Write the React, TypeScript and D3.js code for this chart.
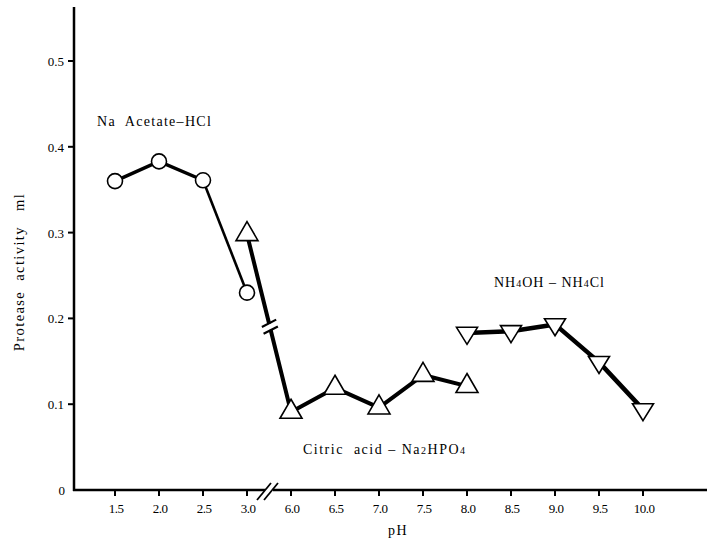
import React from "react";
import * as d3 from "d3";

const xTicks = [1.5, 2.0, 2.5, 3.0, 6.0, 6.5, 7.0, 7.5, 8.0, 8.5, 9.0, 9.5, 10.0];
const xTickLabels = ["1.5", "2.0", "2.5", "3.0", "6.0", "6.5", "7.0", "7.5", "8.0", "8.5", "9.0", "9.5", "10.0"];
const yTicks = [0, 0.1, 0.2, 0.3, 0.4, 0.5];
const yTickLabels = ["0", "0.1", "0.2", "0.3", "0.4", "0.5"];

const acetatePH = [1.5, 2.0, 2.5, 3.0];
const acetateVals = [0.36, 0.383, 0.361, 0.23];
const citricPH = [3.0, 6.0, 6.5, 7.0, 7.5, 8.0];
const citricVals = [0.298, 0.091, 0.119, 0.096, 0.134, 0.121];
const ammoniumPH = [8.0, 8.5, 9.0, 9.5, 10.0];
const ammoniumVals = [0.183, 0.185, 0.193, 0.149, 0.094];

const W = 707;
const H = 542;
const FONT = "'Liberation Serif', 'DejaVu Serif', serif";

// broken axis: pH -> index position
const idx = (p: number) => (p <= 3.0 ? (p - 1.5) / 0.5 : 4 + (p - 6.0) / 0.5);
const xIdx = d3.scaleLinear().domain([0, 12]).range([115, 643]);
const x = (p: number) => xIdx(idx(p));
const y = d3.scaleLinear().domain([0, 0.5]).range([490, 61]);

const AX = 74;
const AY = y(0);

function triUp(cx: number, cy: number, w = 22, h = 19) {
  return `M${cx},${cy - (2 * h) / 3} L${cx + w / 2},${cy + h / 3} L${cx - w / 2},${cy + h / 3} Z`;
}
function triDown(cx: number, cy: number, w = 21, h = 17) {
  return `M${cx},${cy + (2 * h) / 3} L${cx + w / 2},${cy - h / 3} L${cx - w / 2},${cy - h / 3} Z`;
}

const pre = { whiteSpace: "pre" as const };

export default function App() {
  const line = d3.line<[number, number]>().x((d) => x(d[0])).y((d) => y(d[1]));
  const acet = acetatePH.map((p, i) => [p, acetateVals[i]] as [number, number]);
  const citr = citricPH.map((p, i) => [p, citricVals[i]] as [number, number]);
  const amm = ammoniumPH.map((p, i) => [p, ammoniumVals[i]] as [number, number]);

  // break on the citric 3.0 -> 6.0 segment
  const x0 = x(citricPH[0]), y0 = y(citricVals[0]);
  const x1 = x(citricPH[1]), y1 = y(citricVals[1]);
  const t = 0.52;
  const bx = x0 + (x1 - x0) * t, by = y0 + (y1 - y0) * t;
  const len = Math.hypot(x1 - x0, y1 - y0);
  const ux = (x1 - x0) / len, uy = (y1 - y0) / len;
  const ang = (-27 * Math.PI) / 180;
  const sx = Math.cos(ang), sy = Math.sin(ang);

  const xb = (x(3.0) + x(6.0)) / 2;

  return (
    <svg width={W} height={H} style={{ position: "absolute", left: 0, top: 0, background: "#fff" }} fontFamily={FONT}>
      {/* axes */}
      <line x1={AX} y1={7} x2={AX} y2={AY + 1} stroke="#000" strokeWidth={2.5} />
      <line x1={AX - 1} y1={AY} x2={xb - 4} y2={AY} stroke="#000" strokeWidth={2.5} />
      <line x1={xb + 4} y1={AY} x2={W} y2={AY} stroke="#000" strokeWidth={2.5} />
      <line x1={xb - 12} y1={AY + 10} x2={xb + 2} y2={AY - 7} stroke="#000" strokeWidth={1.8} />
      <line x1={xb - 5} y1={AY + 10} x2={xb + 9} y2={AY - 7} stroke="#000" strokeWidth={1.8} />

      {yTicks.map((v, i) => (
        <g key={"y" + i}>
          {i > 0 && <line x1={AX - 6} y1={y(v)} x2={AX} y2={y(v)} stroke="#000" strokeWidth={2} />}
          <text x={i === 0 ? 65 : 64} y={y(v) + 5} textAnchor="end" fontSize={13}>
            {yTickLabels[i]}
          </text>
        </g>
      ))}
      {xTicks.map((p, i) => (
        <g key={"x" + i}>
          <line x1={x(p)} y1={AY} x2={x(p)} y2={AY + 6} stroke="#000" strokeWidth={2} />
          <text x={x(p) + 1} y={AY + 23} textAnchor="middle" fontSize={13} letterSpacing={-0.5}>
            {xTickLabels[i]}
          </text>
        </g>
      ))}
      <text x={398} y={535} textAnchor="middle" fontSize={14} letterSpacing={1.5}>pH</text>
      <text
        transform={`translate(24,272) rotate(-90)`}
        textAnchor="middle"
        fontSize={14.5}
        letterSpacing={1.4}
        style={pre}
      >
        {"Protease  activity   ml"}
      </text>

      {/* series lines */}
      <path d={line(acet.slice(0, 3)) || ""} fill="none" stroke="#000" strokeWidth={3.5} />
      <path d={line(acet.slice(2)) || ""} fill="none" stroke="#000" strokeWidth={2.6} />
      <path d={line(citr) || ""} fill="none" stroke="#000" strokeWidth={4} strokeLinejoin="round" />
      <path d={line(amm) || ""} fill="none" stroke="#000" strokeWidth={4.5} strokeLinejoin="round" />

      {/* break on the citric line */}
      <line x1={bx - ux * 3} y1={by - uy * 3} x2={bx + ux * 3} y2={by + uy * 3} stroke="#fff" strokeWidth={7} />
      {[-3.5, 3.5].map((o, i) => (
        <line
          key={"b" + i}
          x1={bx + ux * o - sx * 8}
          y1={by + uy * o - sy * 8}
          x2={bx + ux * o + sx * 8}
          y2={by + uy * o + sy * 8}
          stroke="#000"
          strokeWidth={2.2}
        />
      ))}

      {/* markers */}
      {acet.map((d, i) => (
        <circle key={"c" + i} cx={x(d[0])} cy={y(d[1])} r={7.5} fill="#fff" stroke="#000" strokeWidth={1.6} />
      ))}
      {citr.map((d, i) => (
        <path key={"t" + i} d={triUp(x(d[0]), y(d[1]))} fill="#fff" stroke="#000" strokeWidth={1.6} strokeLinejoin="miter" />
      ))}
      {amm.map((d, i) => (
        <path key={"d" + i} d={triDown(x(d[0]), y(d[1]))} fill="#fff" stroke="#000" strokeWidth={1.6} />
      ))}

      {/* labels */}
      <text x={97} y={126} fontSize={14} letterSpacing={1.3} style={pre}>{"Na  Acetate–HCl"}</text>
      <text x={494} y={287} fontSize={14} letterSpacing={1} style={pre}>
        NH<tspan fontSize={10}>4</tspan>{"OH – NH"}<tspan fontSize={10}>4</tspan>Cl
      </text>
      <text x={303} y={454} fontSize={14} letterSpacing={1.5} style={pre}>
        {"Citric  acid – Na"}<tspan fontSize={10}>2</tspan>HPO<tspan fontSize={10}>4</tspan>
      </text>
    </svg>
  );
}
